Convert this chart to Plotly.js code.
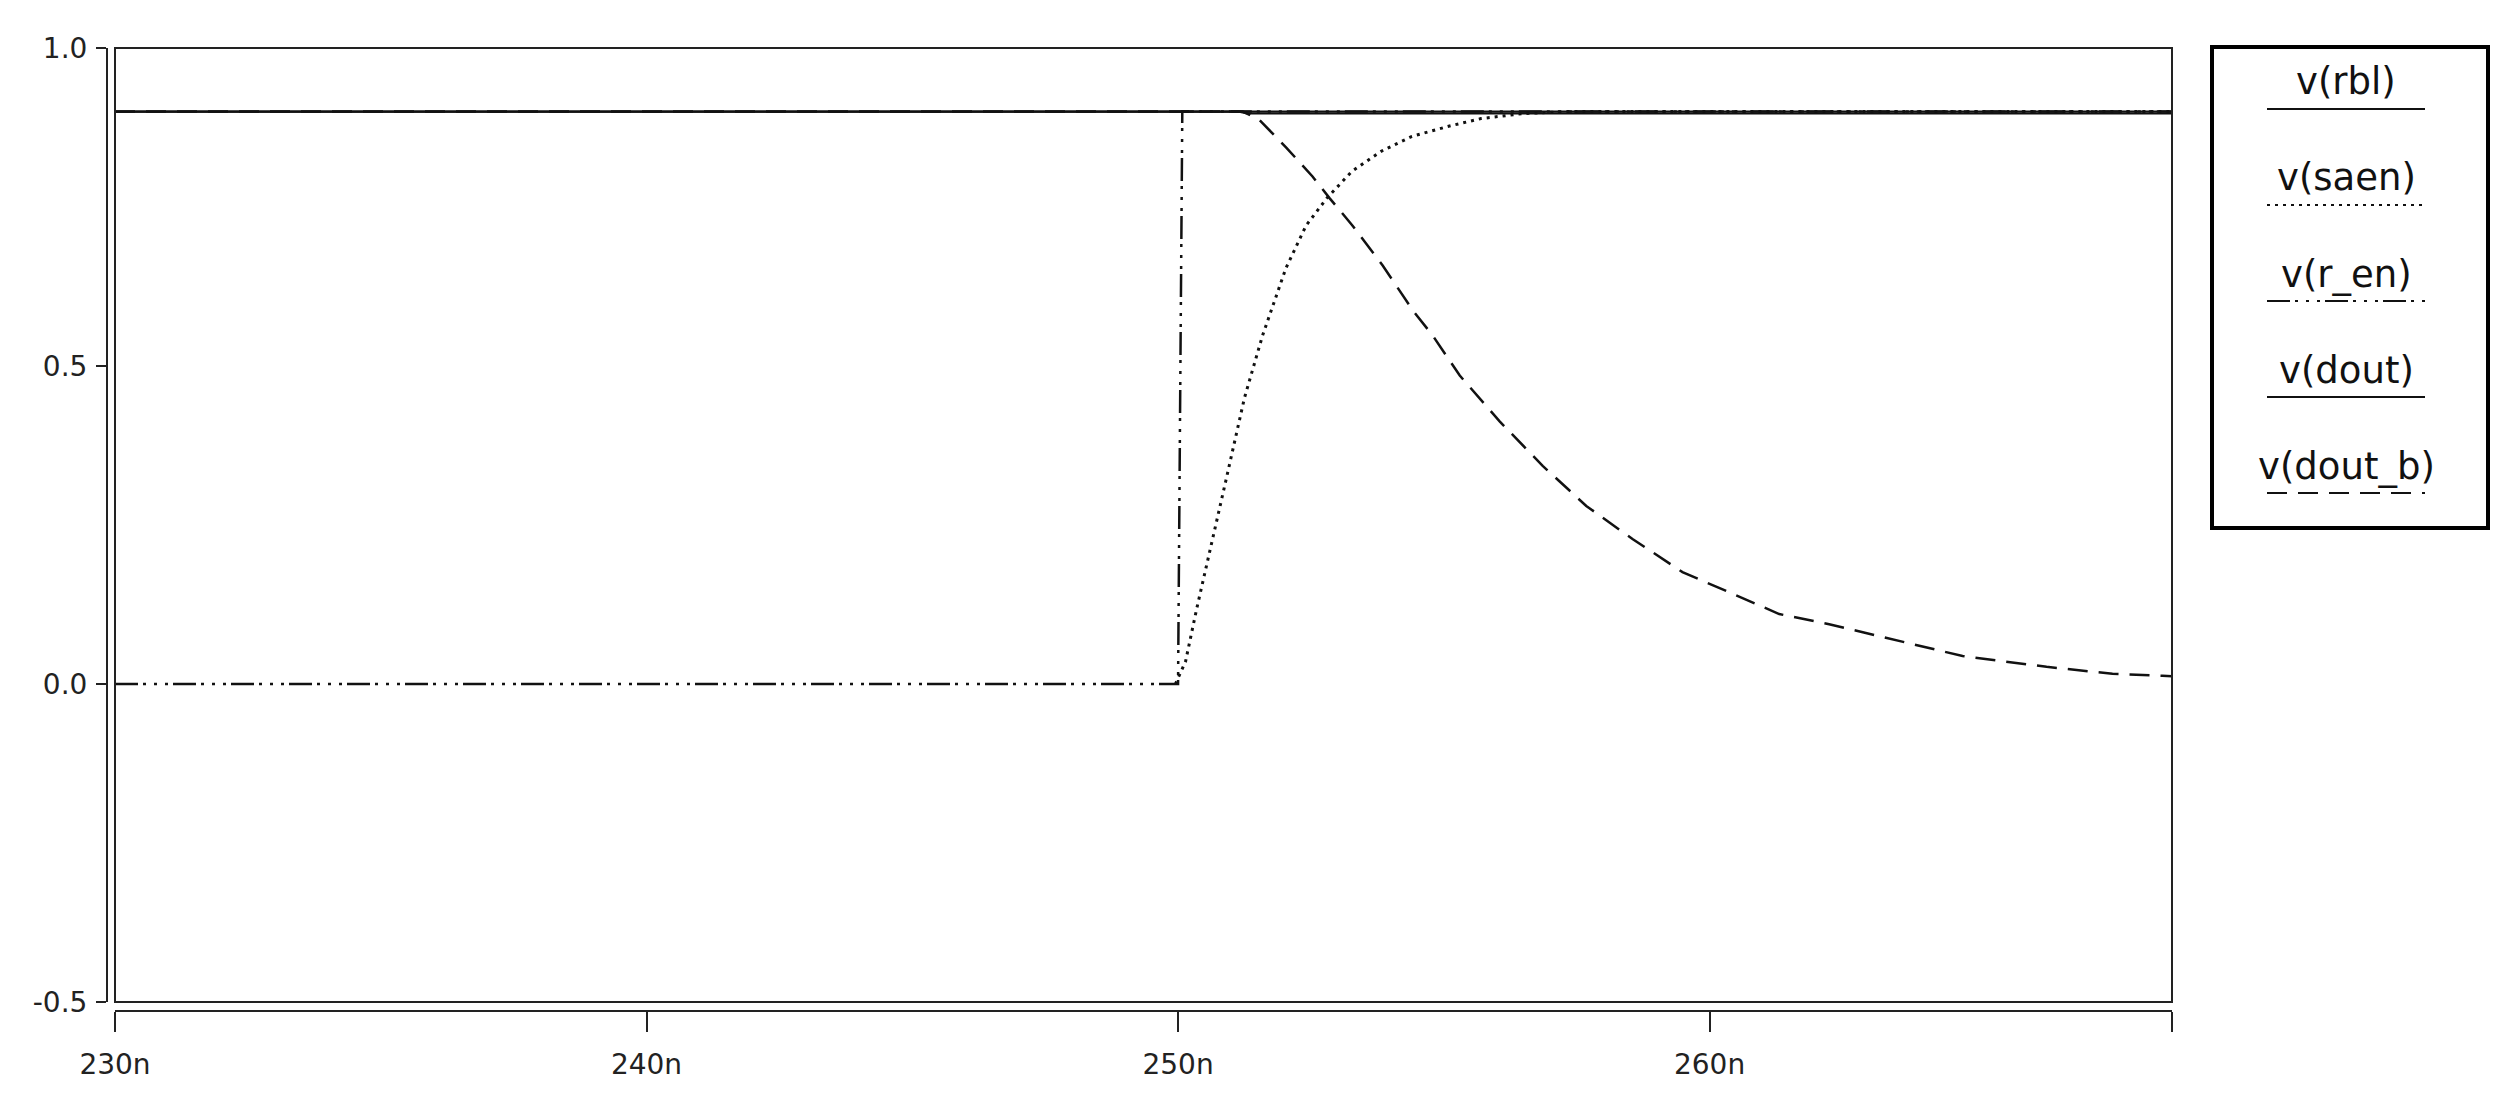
<!DOCTYPE html>
<html>
<head>
<meta charset="utf-8">
<script src="https://cdn.plot.ly/plotly-3.0.1.min.js"></script>
<style>
  html, body { margin: 0; padding: 0; background: #fff; }
  #graph { width: 2513px; height: 1095px; }
</style>
</head>
<body>
<div id="graph"></div>
<script>
// time in ns, voltage in V
const seriesNames = ['v(rbl)', 'v(saen)', 'v(r_en)', 'v(dout)', 'v(dout_b)'];

const tRbl = [230, 268.7];
const vRbl = [0.9, 0.9];

const tSaen = [249.95, 250.14, 250.35, 250.54, 250.9, 251.25, 251.59, 252.03, 252.41, 252.8, 253.27, 253.83, 254.4, 255.09, 255.7, 256.5, 257.3, 268.7];
const vSaen = [0, 0.035, 0.118, 0.186, 0.32, 0.45, 0.548, 0.654, 0.721, 0.764, 0.806, 0.838, 0.861, 0.877, 0.889, 0.897, 0.9, 0.9];

const tRen = [230, 250.0, 250.08, 268.7];
const vRen = [0, 0, 0.9, 0.9];

const tDout = [230, 251.15, 251.3, 268.7];
const vDout = [0.9, 0.9, 0.897, 0.897];

const tDoutB = [230, 251.15, 251.22, 251.53, 252.04, 252.53, 252.85, 253.28, 253.85, 254.43, 254.79, 255.3, 256.05, 256.86, 257.68, 258.55, 259.49, 260.43, 261.31, 262.25, 263.38, 264.76, 266.34, 267.58, 268.52, 268.7];
const vDoutB = [0.9, 0.9, 0.9, 0.887, 0.843, 0.798, 0.764, 0.721, 0.658, 0.586, 0.548, 0.485, 0.413, 0.343, 0.28, 0.228, 0.176, 0.142, 0.11, 0.094, 0.071, 0.044, 0.027, 0.016, 0.013, 0.012];

const xTickVals = [230, 240, 250, 260, 268.7];
const xTickText = ['230n', '240n', '250n', '260n', ''];
const yTickVals = [-0.5, 0, 0.5, 1.0];
const yTickText = ['-0.5', '0.0', '0.5', '1.0'];

document.addEventListener('DOMContentLoaded', function() {

    const W = 2513, H = 1095;
    const mL = 107, mR = 341, mT = 48, mB = 84;
    const pw = W - mL - mR, ph = H - mT - mB;
    const px = v => (v - mL) / pw;
    const py = v => (H - mB - v) / ph;

    const ink = '#111';
    const dashes = [
        'solid',
        '3px,5px',
        '23px,5px,3px,8px,3px,8px,3px,5px',
        'solid',
        '20px,11px'
    ];
    const widths = [2.2, 3, 2.5, 2.2, 2.5];
    const xs = [tRbl, tSaen, tRen, tDout, tDoutB];
    const ys = [vRbl, vSaen, vRen, vDout, vDoutB];

    const traces = seriesNames.map((name, i) => ({
        x: xs[i], y: ys[i], name: name,
        type: 'scatter', mode: 'lines',
        line: { color: ink, width: widths[i], dash: dashes[i] },
        hoverinfo: 'skip'
    }));

    const shapes = [
        // plot frame
        { type: 'rect', xref: 'x domain', yref: 'y domain', x0: 0, x1: 1, y0: 0, y1: 1,
          line: { color: '#222', width: 2 } },
        // legend box
        { type: 'rect', xref: 'paper', yref: 'paper',
          x0: px(2212), x1: px(2488), y0: py(528), y1: py(47),
          line: { color: '#000', width: 4 }, fillcolor: '#fff' }
    ];
    const annotations = [];

    seriesNames.forEach((name, i) => {
        const lineY = 109 + i * 96;
        shapes.push({
            type: 'line', xref: 'paper', yref: 'paper',
            x0: px(2267), x1: px(2425), y0: py(lineY), y1: py(lineY),
            line: { color: ink, width: 2.2, dash: dashes[i] }
        });
        annotations.push({
            xref: 'paper', yref: 'paper', x: px(2346), y: py(lineY - 27),
            xanchor: 'center', yanchor: 'middle', showarrow: false,
            text: name, font: { family: 'DejaVu Sans, sans-serif', size: 37, color: ink }
        });
    });

    const tickFont = { family: 'DejaVu Sans, sans-serif', size: 28, color: '#222' };

    const layout = {
        width: W, height: H,
        margin: { l: mL, r: mR, t: mT, b: mB, pad: 0 },
        paper_bgcolor: '#fff',
        plot_bgcolor: '#fff',
        showlegend: false,
        xaxis: {
            domain: [8 / pw, 1],
            anchor: 'free', position: 0,
            range: [230, 268.7],
            tickmode: 'array', tickvals: xTickVals, ticktext: xTickText,
            ticks: 'outside', ticklen: 20, tickwidth: 2, tickcolor: '#222',
            showline: true, linecolor: '#222', linewidth: 2,
            showgrid: false, zeroline: false,
            tickfont: tickFont, ticklabelstandoff: 8
        },
        yaxis: {
            domain: [9 / ph, 1],
            anchor: 'free', position: 0,
            range: [-0.5, 1.0],
            tickmode: 'array', tickvals: yTickVals, ticktext: yTickText,
            ticks: 'outside', ticklen: 10, tickwidth: 2, tickcolor: '#222',
            showline: true, linecolor: '#222', linewidth: 2,
            showgrid: false, zeroline: false,
            tickfont: tickFont, ticklabelstandoff: 3
        },
        shapes: shapes,
        annotations: annotations
    };

    Plotly.newPlot('graph', traces, layout, { staticPlot: true, displayModeBar: false });
});
</script>
</body>
</html>
